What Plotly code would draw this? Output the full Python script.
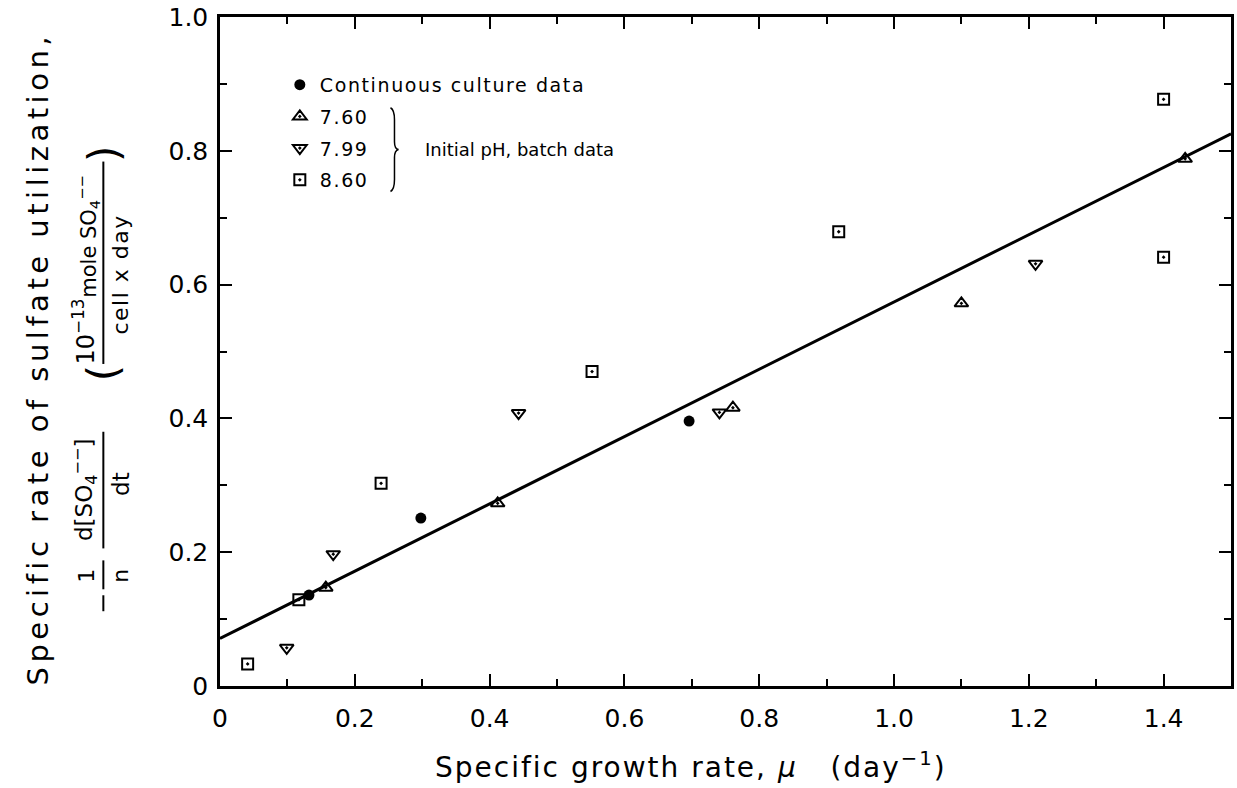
import plotly.graph_objects as go

# ---------------- data ----------------
cont_x = [0.132, 0.298, 0.696]
cont_y = [0.136, 0.251, 0.396]

ph760_x = [0.157, 0.412, 0.761, 1.100, 1.432]
ph760_y = [0.147, 0.273, 0.416, 0.572, 0.788]

ph799_x = [0.099, 0.168, 0.443, 0.741, 1.210]
ph799_y = [0.057, 0.197, 0.408, 0.409, 0.631]

ph860_x = [0.041, 0.117, 0.239, 0.552, 0.918, 1.400, 1.400]
ph860_y = [0.033, 0.129, 0.303, 0.470, 0.679, 0.877, 0.641]

fit_intercept = 0.071
fit_slope = 0.503
x_range = [0, 1.5]
y_range = [0, 1.0]

xtick_vals = [0, 0.2, 0.4, 0.6, 0.8, 1.0, 1.2, 1.4]
xtick_text = ["0", "0.2", "0.4", "0.6", "0.8", "1.0", "1.2", "1.4"]
ytick_vals = [0, 0.2, 0.4, 0.6, 0.8, 1.0]
ytick_text = ["0", "0.2", "0.4", "0.6", "0.8", "1.0"]

series_names = ["Continuous culture data", "7.60", "7.99", "8.60"]

# ---------------- layout helpers ----------------
W, H = 1237, 788
L, R, T, B = 220, 3, 15, 102
PW, PH = W - L - R, H - T - B
FONT = "DejaVu Sans"


def px(x):
    return (x - L) / PW


def py(y):
    return (H - B - y) / PH


def spaced(s, sp):
    return f'<span style="letter-spacing:{sp}px">{s}</span>'


fig = go.Figure()

fit_y = [fit_intercept + fit_slope * x for x in x_range]
fig.add_trace(go.Scatter(x=x_range, y=fit_y, mode="lines",
                         line=dict(color="black", width=3), showlegend=False,
                         hoverinfo="skip"))

fig.add_trace(go.Scatter(x=cont_x, y=cont_y, mode="markers", name=spaced(series_names[0], 1.6),
                         legendgroup="g1",
                         marker=dict(symbol="circle", size=11, color="black")))
fig.add_trace(go.Scatter(x=ph760_x, y=ph760_y, mode="markers", name=spaced(series_names[1], 1.6),
                         legendgroup="g2",
                         marker=dict(symbol="triangle-up-open-dot", size=12, color="black",
                                     line=dict(width=2, color="black"))))
fig.add_trace(go.Scatter(x=ph799_x, y=ph799_y, mode="markers", name=spaced(series_names[2], 1.6),
                         legendgroup="g3",
                         marker=dict(symbol="triangle-down-open-dot", size=12, color="black",
                                     line=dict(width=2, color="black"))))
fig.add_trace(go.Scatter(x=ph860_x, y=ph860_y, mode="markers", name=spaced(series_names[3], 1.6),
                         legendgroup="g4",
                         marker=dict(symbol="square-open-dot", size=11, color="black",
                                     line=dict(width=2, color="black"))))

axis_common = dict(
    showline=True, linewidth=2.5, linecolor="black", mirror="ticks",
    ticks="inside", ticklen=12, tickwidth=2, tickcolor="black",
    showgrid=False, zeroline=False,
    tickfont=dict(family=FONT, size=25, color="black"),
    minor=dict(tickmode="linear", tick0=0, dtick=0.1, ticks="inside",
               ticklen=7, tickwidth=2, tickcolor="black", showgrid=False),
)

fig.update_layout(
    width=W, height=H,
    margin=dict(l=L, r=R, t=T, b=B, pad=0),
    paper_bgcolor="white", plot_bgcolor="white",
    font=dict(family=FONT, color="black"),
    xaxis=dict(range=x_range, tickmode="array", tickvals=xtick_vals, ticktext=xtick_text,
               ticklabelstandoff=8, **axis_common),
    yaxis=dict(range=y_range, tickmode="array", tickvals=ytick_vals, ticktext=ytick_text,
               ticklabelstandoff=4, **axis_common),
    legend=dict(x=px(280), y=py(64), xanchor="left", yanchor="top",
                bgcolor="rgba(0,0,0,0)", borderwidth=0,
                font=dict(family=FONT, size=19, color="black"),
                tracegroupgap=4, traceorder="grouped"),
    showlegend=True,
)

ann = []
txt = dict(family=FONT, color="black")

ann.append(dict(text="Initial pH, batch data", x=px(424), y=py(148),
                xanchor="left", yanchor="middle", font=dict(size=18, **txt)))

ann.append(dict(text=spaced("Specific growth rate, <i>\u03bc</i>\u00a0\u00a0\u00a0(day<sup>\u22121</sup>)", 2),
                x=px(692), y=py(766), xanchor="center", yanchor="middle",
                font=dict(size=28, **txt)))

# y-axis title, line 1
ann.append(dict(text=spaced("Specific rate of sulfate utilization,", 4.5), x=px(37), y=py(358),
                textangle=-90, xanchor="center", yanchor="middle",
                font=dict(size=29, **txt)))

# y-axis title, line 2 pieces
ann.append(dict(text="1", x=px(86), y=py(575), textangle=-90,
                xanchor="center", yanchor="middle", font=dict(size=22, **txt)))
ann.append(dict(text="n", x=px(120), y=py(575), textangle=-90,
                xanchor="center", yanchor="middle", font=dict(size=22, **txt)))
ann.append(dict(text="d[SO<sub>4</sub><sup>\u2212\u2212</sup>]", x=px(84), y=py(489), textangle=-90,
                xanchor="center", yanchor="middle", font=dict(size=23, **txt)))
ann.append(dict(text="dt", x=px(120), y=py(483), textangle=-90,
                xanchor="center", yanchor="middle", font=dict(size=23, **txt)))
ann.append(dict(text="10<sup>\u221213</sup>", x=px(84), y=py(330), textangle=-90,
                xanchor="center", yanchor="middle", font=dict(size=24, **txt)))
ann.append(dict(text="mole SO<sub>4</sub><sup>\u2212\u2212</sup>", x=px(88), y=py(235), textangle=-90,
                xanchor="center", yanchor="middle", font=dict(size=21, **txt)))
ann.append(dict(text=spaced("cell x day", 1.5), x=px(120), y=py(273), textangle=-90,
                xanchor="center", yanchor="middle", font=dict(size=22, **txt)))
ann.append(dict(text="(", x=px(104), y=py(372), textangle=-90,
                xanchor="center", yanchor="middle", font=dict(size=42, **txt)))
ann.append(dict(text=")", x=px(104), y=py(152), textangle=-90,
                xanchor="center", yanchor="middle", font=dict(size=42, **txt)))

for a in ann:
    a.update(xref="paper", yref="paper", showarrow=False)
fig.update_layout(annotations=ann)

shapes = []
line_style = dict(color="black", width=2)
# fraction bars and minus sign (vertical because the title is rotated)
for (x0, y0, x1, y1) in [(103, 560, 103, 589), (103, 431, 103, 548),
                         (103, 160, 103, 363), (103, 595, 103, 611)]:
    shapes.append(dict(type="line", xref="paper", yref="paper",
                       x0=px(x0), y0=py(y0), x1=px(x1), y1=py(y1), line=line_style))

# brace joining the batch-data legend entries
bx, btop, bmid, bbot = 391, 106, 148, 190
pts = [
    ("M", bx, btop),
    ("Q", bx + 4, btop + 2, bx + 4, btop + 12),
    ("L", bx + 4, bmid - 8),
    ("Q", bx + 4, bmid - 1, bx + 8, bmid),
    ("Q", bx + 4, bmid + 1, bx + 4, bmid + 8),
    ("L", bx + 4, bbot - 12),
    ("Q", bx + 4, bbot - 2, bx, bbot),
]
path = ""
for p in pts:
    cmd = p[0]
    coords = p[1:]
    seg = []
    for i in range(0, len(coords), 2):
        seg.append(f"{px(coords[i]):.5f},{py(coords[i + 1]):.5f}")
    path += cmd + " " + " ".join(seg) + " "
shapes.append(dict(type="path", xref="paper", yref="paper", path=path.strip(),
                   line=dict(color="black", width=1.5)))

fig.update_layout(shapes=shapes)

fig.write_html("out.html")
